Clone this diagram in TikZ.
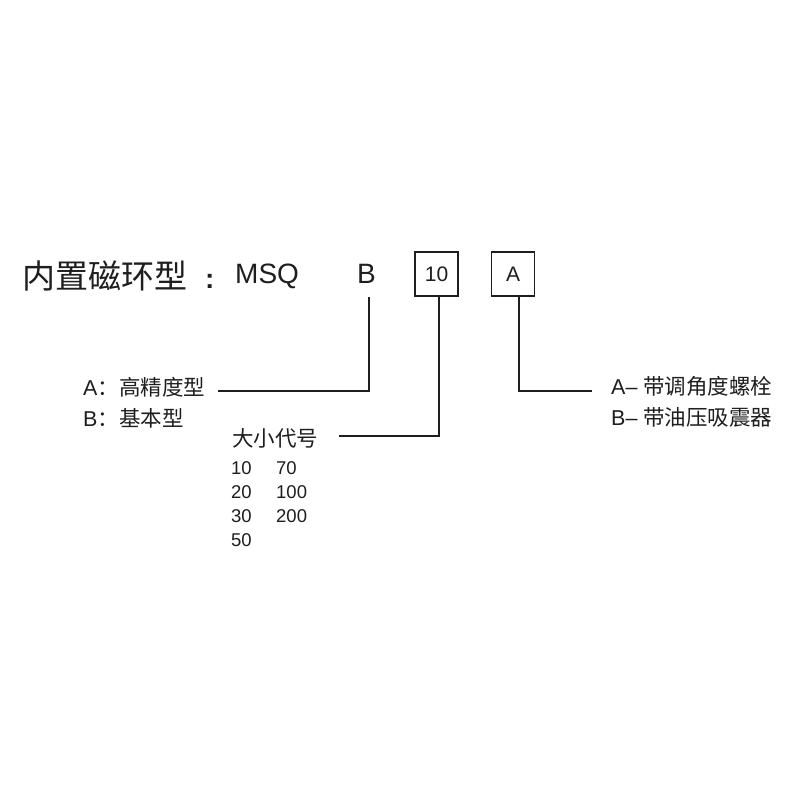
\documentclass[tikz,border=0pt]{standalone}
\usepackage{fontspec}
\setmainfont{Liberation Sans}
\newfontfamily\cjk{Noto Sans CJK SC}
\definecolor{ink}{HTML}{1E1E1E}
\begin{document}
\begin{tikzpicture}[x=1pt,y=-1pt,
  conn/.style={line width=1.8pt, draw=ink, line cap=rect},
  txt/.style={inner sep=0pt, anchor=base west, text=ink},
  lbl/.style={txt, font=\fontsize{21.5}{26}\selectfont},
  num/.style={txt, font=\fontsize{18.5}{22}\selectfont},
  codebox/.style={draw=ink, line width=1.8pt, minimum width=43pt, minimum height=44pt,
    inner sep=0pt, text=ink, font=\fontsize{21}{25}\selectfont}]
\useasboundingbox (0,0) rectangle (800,800);
% title row
\node[txt, font=\cjk\fontsize{33}{40}\selectfont] (title) at (22,288) {内置磁环型};
\node[txt, font=\bfseries\fontsize{28}{34}\selectfont] (colon) at (205,288) {:};
\node[txt, font=\fontsize{28}{34}\selectfont] (msq) at (235,283) {MSQ};
\node[txt, font=\fontsize{28}{34}\selectfont] (bl) at (357,283) {B};
\node[codebox] (b10) at (436.5,274) {10};
\node[codebox] (bA) at (513,274) {A};
% connectors
\coordinate (kB) at (369,298);
\coordinate (eB) at (219,391);
\coordinate (k10) at (439,0);
\coordinate (e10) at (340,436);
\coordinate (kA) at (519,0);
\coordinate (eA) at (591,391);
\draw[conn] (kB) |- (eB);
\draw[conn] (b10.south -| k10) |- (e10);
\draw[conn] (bA.south -| kA) |- (eA);
% left labels
\node[lbl] (la) at (83,395) {A{\cjk ：高精度型}};
\node[lbl] (lb) at (83,426) {B{\cjk ：基本型}};
\node[lbl] (size) at (232,446) {\cjk 大小代号};
\node[num] (n10) at (231,474) {10};
\node[num] (n70) at (276,474) {70};
\node[num] (n20) at (231,498) {20};
\node[num] (n100) at (276,498) {100};
\node[num] (n30) at (231,522) {30};
\node[num] (n200) at (276,522) {200};
\node[num] (n50) at (231,546) {50};
% right labels
\node[lbl] (ra) at (611,394) {A– {\cjk 带调角度螺栓}};
\node[lbl] (rb) at (611,425) {B– {\cjk 带油压吸震器}};
\end{tikzpicture}
\end{document}
